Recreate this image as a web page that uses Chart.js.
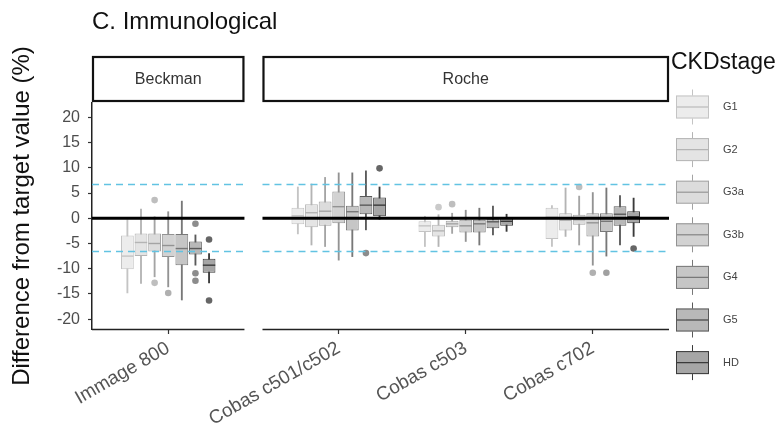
<!DOCTYPE html>
<html><head><meta charset="utf-8">
<script src="https://cdn.jsdelivr.net/npm/chart.js@4.4.1/dist/chart.umd.min.js"></script>
<style>html,body{margin:0;padding:0;background:#fff;}#wrap{width:780px;height:433px;position:relative;}</style>
</head><body><div id="wrap"><canvas id="c" width="780" height="433"></canvas></div>
<script>
// ---------- data ----------
const instruments = ['Immage 800', 'Cobas c501/c502', 'Cobas c503', 'Cobas c702'];
const manufacturers = ['Beckman', 'Roche'];
const manufacturerOf = [0, 1, 1, 1];
const stages = ['G1', 'G2', 'G3a', 'G3b', 'G4', 'G5', 'HD'];
// [lower whisker, Q1, median, Q3, upper whisker] for each instrument
const statsG1  = [[-14.8, -10.1, -7.5, -3.4, -0.3], [-3.1, -1.2, 0.5, 2.1, 6.2], [-5.6, -2.7, -1.5, -0.6, 0.4], [-5.6, -4.1, 0.2, 2.1, 2.5]];
const statsG2  = [[-12.9, -7.5, -4.8, -3.0, 1.8], [-5.3, -1.8, 1.1, 2.8, 6.8], [-5.6, -3.6, -2.5, -1.3, 0.7], [-3.6, -2.4, -0.4, 1.0, 6.0]];
const statsG3a = [[-11.6, -6.6, -5.0, -3.0, 0.3], [-5.6, -1.5, 1.4, 3.3, 8.1], [-3.0, -1.8, -1.1, -0.5, 1.0], [-5.3, -1.3, -0.3, 0.7, 4.4]];
const statsG3b = [[-13.6, -7.7, -5.4, -3.1, 1.3], [-8.3, -1.0, 2.3, 5.3, 9.0], [-4.6, -2.8, -1.5, -0.3, 1.6], [-9.3, -3.6, -0.9, 1.0, 5.1]];
const statsG4  = [[-16.2, -9.3, -6.0, -3.1, 3.4], [-7.6, -2.4, 1.3, 2.5, 9.0], [-5.3, -2.8, -1.1, -0.3, 2.0], [-7.5, -2.7, -0.6, 1.0, 6.0]];
const statsG5  = [[-9.3, -7.2, -6.0, -4.6, -3.3], [-2.3, 0.8, 2.6, 4.4, 9.4], [-3.3, -2.0, -0.7, -0.2, 2.4], [-5.3, -1.5, 0.8, 2.4, 4.5]];
const statsHD  = [[-12.8, -10.8, -9.3, -8.0, -7.0], [-0.2, 0.4, 2.6, 4.1, 6.2], [-2.6, -1.5, -0.6, 0.2, 0.8], [-3.6, -1.0, 0.3, 1.4, 4.0]];
// outliers for each instrument
const outG1  = [[], [], [], []];
const outG2  = [[], [], [2.2], []];
const outG3a = [[3.6, -12.8], [], [2.8], [6.2]];
const outG3b = [[-14.8], [], [], [-10.8]];
const outG4  = [[], [], [], [-10.8]];
const outG5  = [[-1.1, -10.9, -12.4], [-6.9], [], []];
const outHD  = [[-4.2, -16.3], [9.9], [], [-6.0]];
const targetLimits = [6.7, -6.6];
const yTicks = [-20, -15, -10, -5, 0, 5, 10, 15, 20];

const stageStats = [statsG1, statsG2, statsG3a, statsG3b, statsG4, statsG5, statsHD];
const stageOut = [outG1, outG2, outG3a, outG3b, outG4, outG5, outHD];

// ---------- styles ----------
const fills   = ['#ececec', '#e4e4e4', '#dcdcdc', '#d2d2d2', '#c6c6c6', '#b8b8b8', '#a6a6a6'];
const strokes = ['#c4c4c4', '#b4b4b4', '#a4a4a4', '#939393', '#787878', '#5a5a5a', '#3a3a3a'];
const outCols = ['#d4d4d4', '#cacaca', '#bebebe', '#b0b0b0', '#a0a0a0', '#8c8c8c', '#666666'];
const FONT = "'Liberation Sans', Arial, sans-serif";

// ---------- facet layout on the x axis (ggplot-like discrete expansion) ----------
const EXP = 0.6, GAP = 0.142, DODGE = 0.75 / stages.length;
const panels = [];
let cursor = -EXP;
manufacturers.forEach((m, p) => {
  const n = manufacturerOf.filter(v => v === p).length;
  const width = (n - 1) + 2 * EXP;
  panels.push({ name: m, start: cursor, end: cursor + width });
  cursor += width + GAP;
});
const catX = [];
manufacturers.forEach((m, p) => {
  let k = 0;
  manufacturerOf.forEach((mp, j) => { if (mp === p) { catX[j] = panels[p].start + EXP + k; k++; } });
});
const xMax = panels[panels.length - 1].end;
const off = i => (i - (stages.length - 1) / 2) * DODGE;

// ---------- datasets ----------
const datasets = [];
stages.forEach((s, i) => {
  const st = stageStats[i];
  datasets.push({
    type: 'bar', label: s + ' whisker', order: 40 - i,
    data: instruments.map((_, j) => ({ x: catX[j] + off(i), y: [st[j][0], st[j][4]] })),
    backgroundColor: strokes[i], borderWidth: 0, grouped: false,
    maxBarThickness: 1.2, barPercentage: 1, categoryPercentage: 1
  });
  datasets.push({
    type: 'bar', label: s, order: 30 - i,
    data: instruments.map((_, j) => ({ x: catX[j] + off(i), y: [st[j][1], st[j][3]] })),
    backgroundColor: fills[i], borderColor: strokes[i], borderWidth: 1, borderSkipped: false,
    grouped: false, barPercentage: 0.94, categoryPercentage: 1
  });
  datasets.push({
    type: 'line', label: s + ' median', order: 20 - i, showLine: false,
    data: instruments.map((_, j) => ({ x: catX[j] + off(i), y: st[j][2] })),
    pointStyle: 'line', pointRadius: 6.2, pointBorderColor: strokes[i], pointBorderWidth: 1.4,
    pointHoverRadius: 6.2
  });
  const od = [];
  stageOut[i].forEach((arr, j) => arr.forEach(v => od.push({ x: catX[j] + off(i), y: v })));
  datasets.push({
    type: 'line', label: s + ' outliers', order: 10 - i, showLine: false, data: od,
    pointStyle: 'circle', pointRadius: 3.3, pointBackgroundColor: outCols[i], pointBorderWidth: 0
  });
});
function refLine(v) {
  const d = [];
  panels.forEach(p => { d.push({ x: p.start, y: v }, { x: p.end, y: v }, { x: p.end + GAP / 2, y: null }); });
  return d;
}
targetLimits.forEach(v => datasets.push({
  type: 'line', label: 'limit', order: 1, data: refLine(v), spanGaps: false,
  borderColor: '#62c3e2', borderWidth: 1.4, borderDash: [7, 5], pointRadius: 0
}));
datasets.push({
  type: 'line', label: 'zero', order: 0, data: refLine(0), spanGaps: false,
  borderColor: '#000', borderWidth: 3, pointRadius: 0
});

// ---------- facet strips, panel axis lines and legend ----------
const facetPlugin = {
  id: 'facets',
  afterDraw(chart) {
    const { ctx, chartArea, scales: { x } } = chart;
    ctx.save();
    panels.forEach(p => {
      const l = x.getPixelForValue(p.start), r = x.getPixelForValue(p.end);
      ctx.strokeStyle = '#222'; ctx.lineWidth = 1.5;
      ctx.beginPath(); ctx.moveTo(l, chartArea.bottom + 0.5); ctx.lineTo(r, chartArea.bottom + 0.5); ctx.stroke();
      ctx.strokeStyle = '#111'; ctx.lineWidth = 2.2;
      ctx.fillStyle = '#fff';
      ctx.fillRect(l + 1, chartArea.top - 46, r - l - 2, 44);
      ctx.strokeRect(l + 1, chartArea.top - 46, r - l - 2, 44);
      ctx.fillStyle = '#333'; ctx.font = '16px ' + FONT;
      ctx.textAlign = 'center'; ctx.textBaseline = 'middle';
      ctx.fillText(p.name, (l + r) / 2, chartArea.top - 23);
    });
    // legend
    ctx.fillStyle = '#111'; ctx.font = '23px ' + FONT;
    ctx.textAlign = 'left'; ctx.textBaseline = 'middle';
    ctx.fillText('CKDstage', 671, 63);
    stages.forEach((s, i) => {
      const cy = 107 + 42.6 * i, bx = 676, bw = 33, bh = 23;
      ctx.strokeStyle = strokes[i]; ctx.lineWidth = 1;
      ctx.beginPath(); ctx.moveTo(bx + bw / 2, cy - bh / 2 - 6); ctx.lineTo(bx + bw / 2, cy + bh / 2 + 6); ctx.stroke();
      ctx.fillStyle = fills[i];
      ctx.fillRect(bx, cy - bh / 2, bw, bh);
      ctx.strokeRect(bx + 0.5, cy - bh / 2 + 0.5, bw - 1, bh - 1);
      ctx.lineWidth = 1.4;
      ctx.beginPath(); ctx.moveTo(bx, cy); ctx.lineTo(bx + bw, cy); ctx.stroke();
      ctx.fillStyle = '#444'; ctx.font = '11px ' + FONT;
      ctx.fillText(s, 723, cy);
    });
    ctx.restore();
  }
};

new Chart(document.getElementById('c'), {
  type: 'bar',
  data: { datasets },
  options: {
    responsive: false, animation: false, events: [],
    layout: { padding: { left: 0, right: 111, top: 0, bottom: 0 } },
    plugins: {
      legend: { display: false }, tooltip: { enabled: false },
      title: {
        display: true, text: 'C. Immunological', align: 'start', fullSize: false,
        color: '#111', font: { family: FONT, size: 24, weight: 'normal', lineHeight: 1.2 },
        padding: { top: 8, bottom: 66.2 }
      }
    },
    scales: {
      x: {
        type: 'linear', min: -EXP, max: xMax, offset: false,
        afterBuildTicks: s => { s.ticks = catX.map(v => ({ value: v })); },
        afterFit: s => { s.height = 104; },
        border: { display: false },
        grid: { offset: false, drawOnChartArea: false, drawTicks: true, tickLength: 5, color: '#333', tickWidth: 1.2 },
        ticks: {
          autoSkip: false, minRotation: 30, maxRotation: 30, padding: 3,
          color: '#555', font: { family: FONT, size: 19 },
          callback: (v, i) => instruments[i]
        }
      },
      y: {
        type: 'linear', min: -21.95, max: 22.85,
        afterBuildTicks: s => { s.ticks = yTicks.map(v => ({ value: v })); },
        afterFit: s => { s.width = 92; },
        border: { display: true, color: '#222', width: 1.5 },
        grid: { drawOnChartArea: false, drawTicks: true, tickLength: 4, color: '#333', tickWidth: 1.2 },
        ticks: { padding: 8, color: '#4d4d4d', font: { family: FONT, size: 16 } },
        title: {
          display: true, text: 'Difference from target value (%)', color: '#111',
          font: { family: FONT, size: 24 }, padding: { top: 8, bottom: 0 }
        }
      }
    }
  },
  plugins: [facetPlugin]
});
</script></body></html>
